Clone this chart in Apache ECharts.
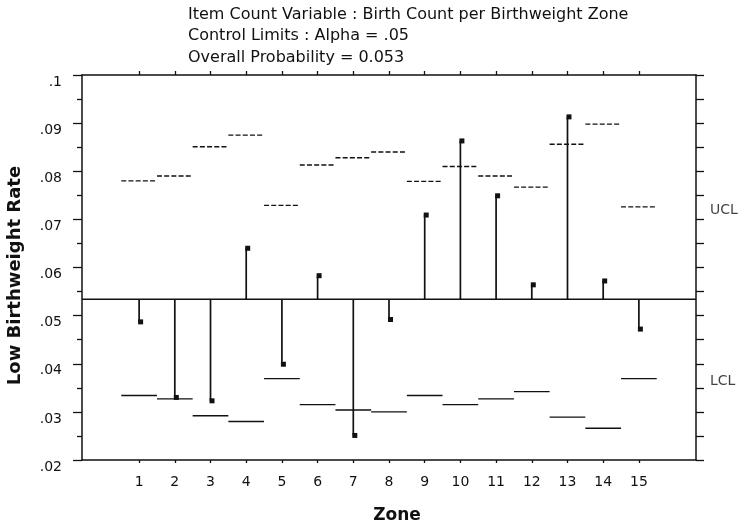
<!DOCTYPE html>
<html>
<head>
<meta charset="utf-8">
<script src="https://cdn.jsdelivr.net/npm/echarts@6/dist/echarts.min.js"></script>
<style>
    html, body { margin: 0; padding: 0; background: #fff; }
    #chart1 { width: 740px; height: 524px; }
</style>
</head>
<body>
<div id="chart1"></div>
<script>
// data
var zones = [1, 2, 3, 4, 5, 6, 7, 8, 9, 10, 11, 12, 13, 14, 15];
var rates = [0.0487, 0.0330, 0.0323, 0.0640, 0.0399, 0.0583, 0.0251, 0.0492, 0.0709, 0.0863, 0.0749, 0.0564, 0.0913, 0.0572, 0.0472];
var ucl = [0.0780, 0.0790, 0.0851, 0.0875, 0.0729, 0.0813, 0.0828, 0.0840, 0.0779, 0.0810, 0.0790, 0.0767, 0.0856, 0.0898, 0.0726];
var lcl = [0.0334, 0.0327, 0.0292, 0.0280, 0.0369, 0.0315, 0.0304, 0.0300, 0.0334, 0.0315, 0.0327, 0.0342, 0.0289, 0.0266, 0.0369];
var centerRate = 0.0534;
var titleLines = [
    'Item Count Variable : Birth Count per Birthweight Zone',
    'Control Limits : Alpha = .05',
    'Overall Probability = 0.053'
];

var xMin = -0.6, xMax = 16.6;
var ink = '#111';
var font = 'DejaVu Sans';

var chart1 = echarts.init(document.getElementById('chart1'));

function rateLabel(v) {
    var s = String(+v.toFixed(2));
    return s.replace(/^0/, '');
}

function stemItem(params, api) {
    var p0 = api.coord([api.value(0), centerRate]);
    var p1 = api.coord([api.value(0), api.value(1)]);
    return {
        type: 'group',
        children: [{
            type: 'line',
            shape: {x1: p0[0], y1: p0[1], x2: p1[0], y2: p1[1]},
            style: {stroke: ink, lineWidth: 1.7}
        }, {
            type: 'rect',
            shape: {x: p1[0] - 1, y: p1[1] - 2.5, width: 5, height: 5},
            style: {fill: ink}
        }]
    };
}

function limitItem(dashed) {
    return function (params, api) {
        var a = api.coord([api.value(0) - 0.5, api.value(1)]);
        var b = api.coord([api.value(0) + 0.5, api.value(1)]);
        return {
            type: 'line',
            shape: {x1: a[0], y1: a[1], x2: b[0], y2: b[1]},
            style: {stroke: ink, lineWidth: 1.4, lineDash: dashed ? [5, 2.2] : null}
        };
    };
}

function pairs(vals) {
    return zones.map(function (z, i) { return [z, vals[i]]; });
}

var option = {
    animation: false,
    backgroundColor: '#fff',
    title: {
        text: titleLines.join('\n'),
        left: 188,
        top: 4,
        padding: 0,
        textStyle: {fontFamily: font, fontSize: 16, fontWeight: 'normal', color: ink, lineHeight: 21.5}
    },
    grid: {left: 82, right: 44, top: 75, bottom: 64, outerBoundsMode: 'none', containLabel: false},
    xAxis: [{
        type: 'value',
        min: xMin,
        max: xMax,
        name: 'Zone',
        nameLocation: 'middle',
        nameGap: 47,
        nameTextStyle: {fontFamily: font, fontSize: 17, fontWeight: 'bold', color: ink, padding: [0, 0, 0, 16]},
        axisLine: {onZero: false, lineStyle: {color: ink, width: 1.5}},
        axisTick: {customValues: zones, length: 3, lineStyle: {color: ink, width: 1.3}},
        axisLabel: {customValues: zones, margin: 15, fontFamily: font, fontSize: 14, color: ink},
        splitLine: {show: false}
    }, {
        type: 'value',
        position: 'top',
        min: xMin,
        max: xMax,
        axisLine: {onZero: false, lineStyle: {color: ink, width: 1.5}},
        axisTick: {customValues: zones, length: 4, lineStyle: {color: ink, width: 1.3}},
        axisLabel: {show: false},
        splitLine: {show: false}
    }],
    yAxis: [{
        type: 'value',
        min: 0.02,
        max: 0.1,
        interval: 0.01,
        name: 'Low Birthweight Rate',
        nameLocation: 'middle',
        nameGap: 58,
        nameRotate: 90,
        nameTextStyle: {fontFamily: font, fontSize: 18, fontWeight: 'bold', color: ink, padding: [0, 16, 0, 0]},
        axisLine: {show: true, onZero: false, lineStyle: {color: ink, width: 1.5}},
        axisTick: {length: 9, lineStyle: {color: ink, width: 1.3}},
        minorTick: {show: true, splitNumber: 2, length: 5, lineStyle: {color: ink, width: 1.3}},
        axisLabel: {margin: 20, fontFamily: font, fontSize: 14, color: ink, verticalAlign: 'top', formatter: rateLabel},
        splitLine: {show: false}
    }, {
        type: 'value',
        position: 'right',
        min: 0.02,
        max: 0.1,
        interval: 0.005,
        axisLine: {show: true, onZero: false, lineStyle: {color: ink, width: 1.5}},
        axisTick: {length: 8, lineStyle: {color: ink, width: 1.3}},
        axisLabel: {show: false},
        splitLine: {show: false}
    }],
    series: [{
        name: 'UCL',
        type: 'custom',
        renderItem: limitItem(true),
        data: pairs(ucl),
        silent: true
    }, {
        name: 'LCL',
        type: 'custom',
        renderItem: limitItem(false),
        data: pairs(lcl),
        silent: true
    }, {
        name: 'Center',
        type: 'line',
        symbol: 'none',
        silent: true,
        lineStyle: {color: ink, width: 1.7},
        data: [[xMin, centerRate], [xMax, centerRate]]
    }, {
        name: 'Rate',
        type: 'custom',
        renderItem: stemItem,
        data: pairs(rates),
        silent: true
    }, {
        name: 'limitNames',
        type: 'scatter',
        symbolSize: 0,
        silent: true,
        data: [
            {name: 'UCL', value: [xMax, ucl[ucl.length - 1]]},
            {name: 'LCL', value: [xMax, lcl[lcl.length - 1]]}
        ],
        label: {
            show: true,
            position: 'right',
            distance: 14,
            offset: [0, 3],
            formatter: '{b}',
            fontFamily: font,
            fontSize: 14,
            color: ink
        }
    }]
};
chart1.setOption(option);
</script>
</body>
</html>
